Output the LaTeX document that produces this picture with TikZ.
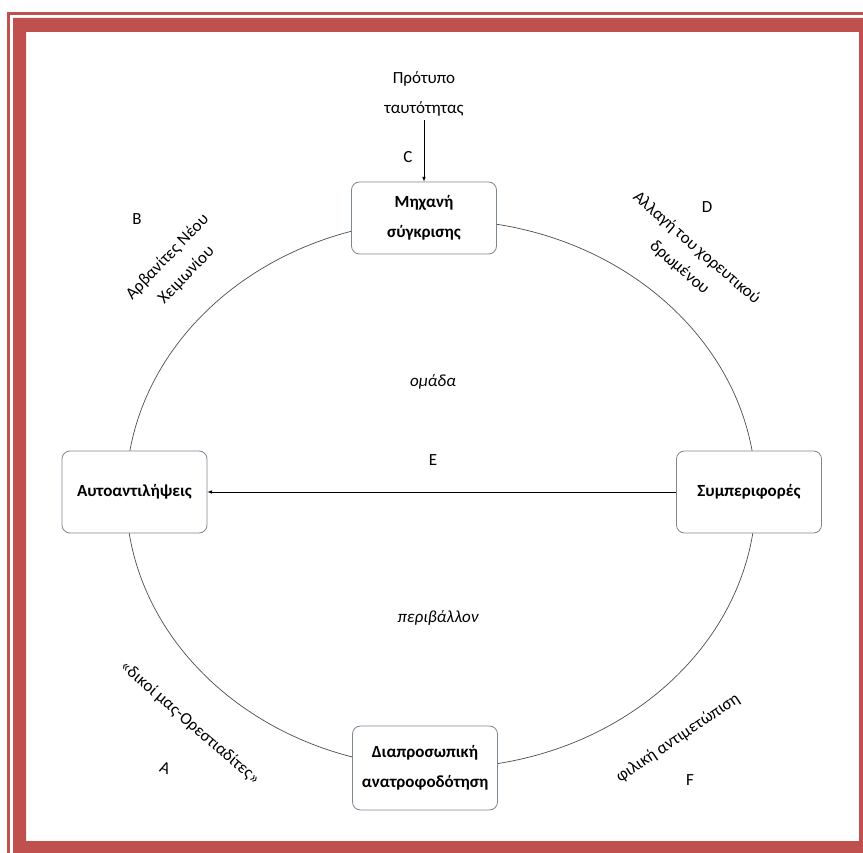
\documentclass[tikz,border=0pt]{standalone}
\usepackage{fontspec}
\setmainfont{Carlito}
\usetikzlibrary{positioning}
\definecolor{framered}{RGB}{192,80,77}
\definecolor{boxline}{RGB}{125,135,145}
\newcommand{\bigtext}{\fontsize{17}{30}\selectfont}
\newcommand{\slanttext}{\fontsize{17}{26}\selectfont}

\begin{document}
\begin{tikzpicture}[x=1pt,y=-1pt,
  stage/.style={draw=boxline,line width=0.8pt,rounded corners=8pt,fill=white,
    align=center,font=\bigtext\bfseries,minimum width=145pt,minimum height=82pt},
  tag/.style={font=\bigtext},
  note/.style={align=center,font=\bigtext},
  slant/.style={align=center,font=\slanttext}]
\useasboundingbox (0,0) rectangle (863,853);
\clip (0,0) rectangle (863,853);
\draw[framered,line width=3pt] (8.2,13.5) rectangle (890,890);
\fill[framered,even odd rule] (13,18) rectangle (890,890) (26,32) rectangle (859,841);

\draw[black!70,line width=0.7pt] (441,494) ellipse (315 and 274);

\node[stage,minimum height=72pt] (cmp) at (424,218) {Μηχανή\\σύγκρισης};
\node[stage] (self) at (134.5,492) {Αυτοαντιλήψεις};
\node[stage] (beh) at (749,492) {Συμπεριφορές};
\node[stage,minimum height=84pt] (fb) at (425,768) {Διαπροσωπική\\ανατροφοδότηση};

\node[note] (model) at (424,94) {Πρότυπο\\ταυτότητας};
\draw[-latex,line width=0.6pt] (model) -- (cmp);
\node[tag] (c) at (408,157) {C};

\draw[-latex,line width=0.6pt] (beh) -- (self);
\node[tag] (e) at (433,460) {E};
\node[tag,font=\bigtext\itshape] (group) at (433,382) {ομάδα};
\node[tag,font=\bigtext\itshape] (env) at (438,618) {περιβάλλον};

\node[tag] (b) at (137,219) {B};
\node[slant,rotate=46] (arv) at (177,266) {Αρβανίτες Νέου\\Χειμωνίου};
\node[tag] (d) at (707,207) {D};
\node[slant,rotate=-41] (dance) at (688,258) {Αλλαγή του χορευτικού\\δρωμένου};
\node[slant,rotate=-41] (ours) at (190,723) {«δικοί μας-Ορεστιαδίτες»};
\node[tag,rotate=-20] (a) at (165,768) {A};
\node[slant,rotate=34] (friend) at (678,738) {φιλική αντιμετώπιση};
\node[tag] (f) at (690,780) {F};
\end{tikzpicture}
\end{document}
